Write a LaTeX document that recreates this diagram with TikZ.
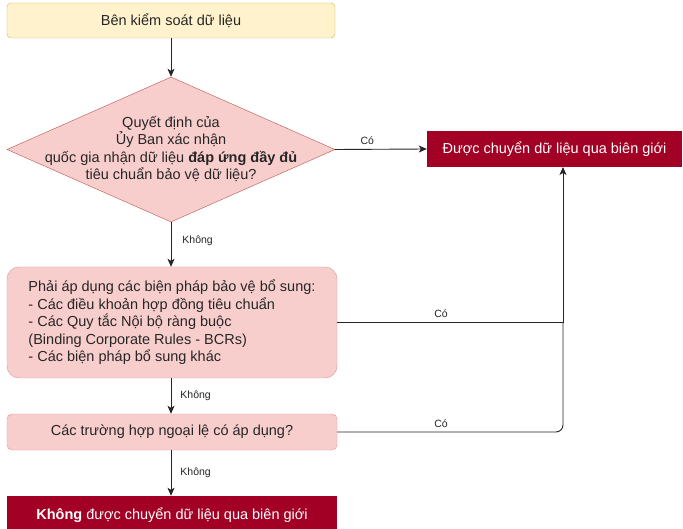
\documentclass[tikz,border=0pt]{standalone}
\usepackage{fontspec}
\setmainfont{Liberation Sans}
\usetikzlibrary{shapes.geometric,arrows.meta}
\definecolor{ctrlfill}{HTML}{FFF2CC}
\definecolor{ctrlline}{HTML}{D6B656}
\definecolor{pinkfill}{HTML}{F8CECC}
\definecolor{pinkline}{HTML}{B85450}
\definecolor{darkred}{HTML}{A20025}
\definecolor{wire}{HTML}{262626}
\tikzset{
  body/.style={font=\fontsize{14.5}{17.5}\selectfont, text=black!85},
  startbox/.style={body, draw=ctrlline, fill=ctrlfill, rounded corners=4pt,
    minimum width=328pt, minimum height=35pt, inner sep=0pt},
  decision/.style={draw=pinkline, fill=pinkfill, diamond, inner sep=0pt,
    minimum width=328pt, minimum height=145pt},
  softbox/.style={body, draw=pinkline!60, fill=pinkfill, inner sep=0pt,
    minimum width=330pt},
  resultbox/.style={body, fill=darkred, text=white, inner sep=0pt},
  wireline/.style={draw=wire, line width=0.9pt},
  arr/.style={wireline, -{Stealth[length=8pt,width=7pt,inset=2pt]}},
  lbl/.style={font=\fontsize{10.5}{12}\selectfont, text=black!85, inner sep=1pt},
}
\begin{document}
\begin{tikzpicture}[x=1pt,y=-1pt]
\clip (0,0) rectangle (683,529);
\fill[white] (0,0) rectangle (683,529);

% boxes of the flow
\node[startbox] (ctrl) at (171,20.5) {Bên kiểm soát dữ liệu};
\node[decision] (q1) at (171,149.5) {};
\node[body, align=center] (q1t) at (171,149) {Quyết định của\\Ủy Ban xác nhận\\quốc gia nhận dữ liệu \textbf{đáp ứng đầy đủ}\\tiêu chuẩn bảo vệ dữ liệu?};
\node[resultbox, minimum width=255pt, minimum height=36pt] (ok) at (554.5,149) {Được chuyển dữ liệu qua biên giới};
\node[softbox, rounded corners=12pt, minimum height=111pt, align=left] (extra) at (172,322.5)
  {Phải áp dụng các biện pháp bảo vệ bổ sung:\\- Các điều khoản hợp đồng tiêu chuẩn\\- Các Quy tắc Nội bộ ràng buộc\\(Binding Corporate Rules - BCRs)\\- Các biện pháp bổ sung khác};
\node[softbox, rounded corners=5pt, minimum height=36pt] (exc) at (172,432) {Các trường hợp ngoại lệ có áp dụng?};
\node[resultbox, minimum width=330pt, minimum height=38pt] (no) at (172,515) {\textbf{Không} được chuyển dữ liệu qua biên giới};

% junction points on the right-hand return line
\coordinate (okin) at (563,167);
\coordinate (join) at (563,323);

% connectors
\draw[arr] (ctrl.south) -- (q1.north);
\draw[arr] (q1.east) -- node[lbl, pos=0.35, above=3pt] (l1) {Có} (ok.west);
\draw[arr] (q1.south) -- node[lbl, pos=0.42, anchor=west, xshift=10pt] (l2) {Không} (extra.north -| q1.south);
\draw[arr] (extra.east) -| node[lbl, pos=0.23, above=3pt] (l3) {Có} (okin);
\draw[arr] (extra.south -| q1.south) -- node[lbl, pos=0.5, anchor=west, xshift=8pt] (l4) {Không} (exc.north -| q1.south);
\draw[wireline, rounded corners=7pt] (exc.east) -| node[lbl, pos=0.23, above=3pt] (l5) {Có} (join);
\draw[arr] (exc.south -| q1.south) -- node[lbl, pos=0.5, anchor=west, xshift=8pt] (l6) {Không} (no.north -| q1.south);
\end{tikzpicture}
\end{document}
